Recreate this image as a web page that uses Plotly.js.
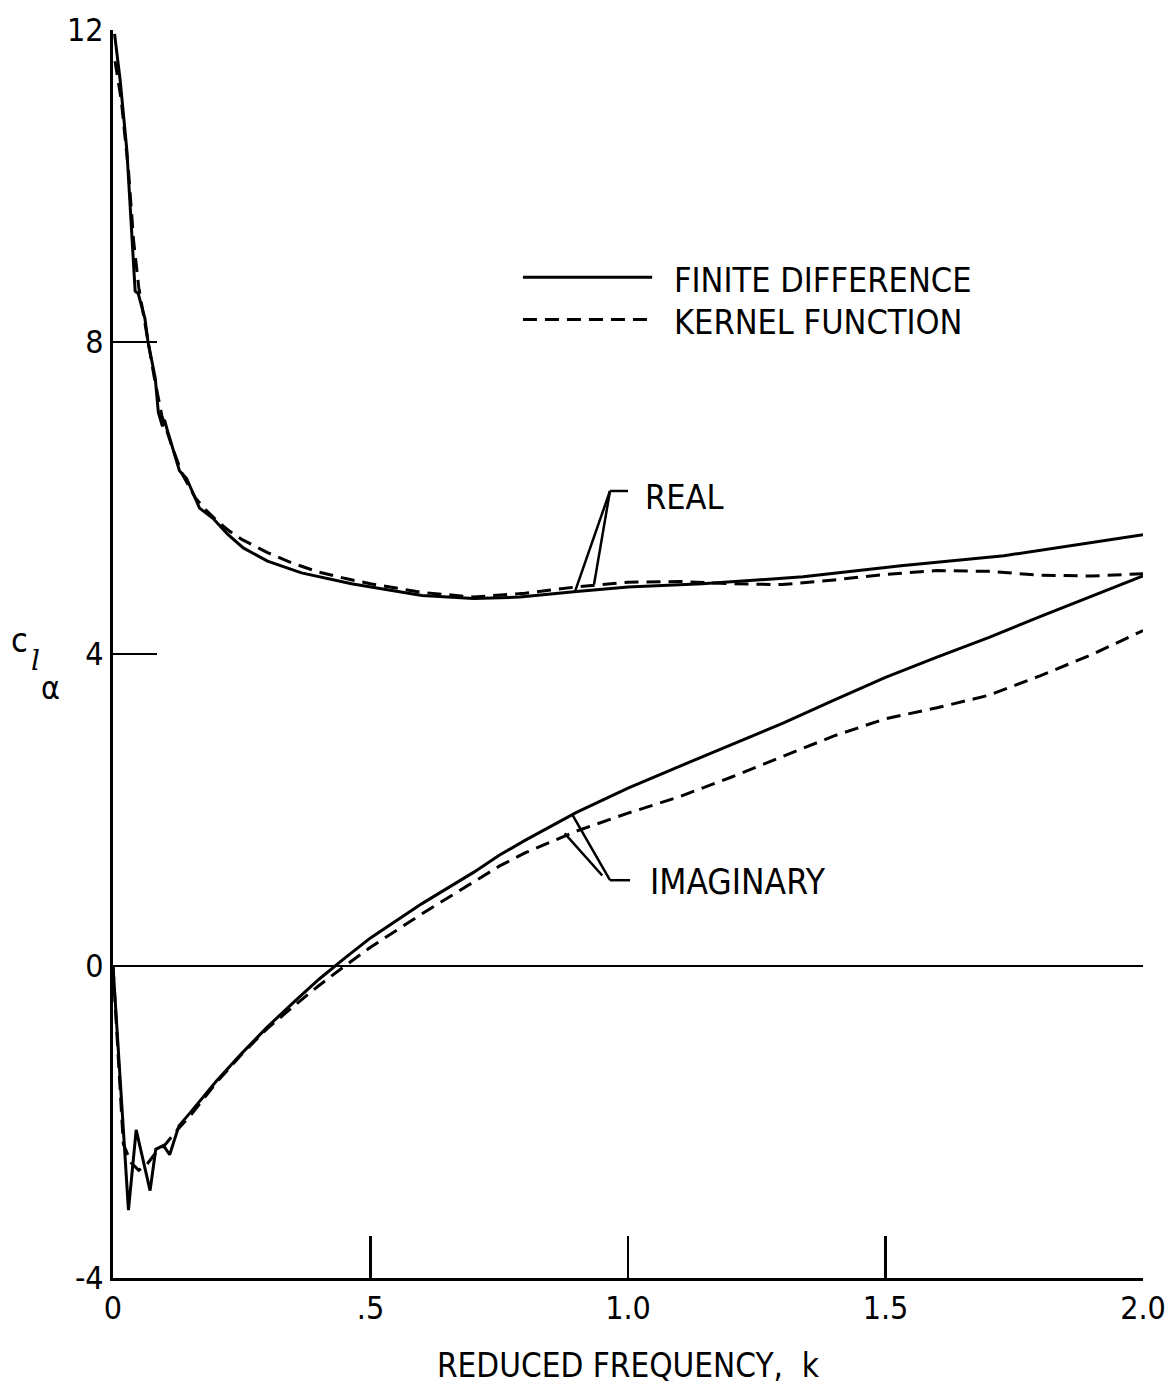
<!DOCTYPE html>
<html>
<head>
<meta charset="utf-8">
<script src="https://cdn.plot.ly/plotly-3.0.1.min.js"></script>
<style>
  html, body { margin: 0; padding: 0; background: #ffffff; }
  #chart { width: 1175px; height: 1392px; }
</style>
</head>
<body>
<div id="chart"></div>
<script>
// ---- Data (reduced frequency k vs c_l_alpha) ----
// Real part, finite difference (solid)
const kRealFD = [0.003, 0.014, 0.027, 0.034, 0.041, 0.043, 0.049, 0.062, 0.068, 0.082, 0.088, 0.096, 0.100, 0.105, 0.129, 0.143, 0.168, 0.194, 0.222, 0.253, 0.30, 0.366, 0.463, 0.55, 0.60, 0.70, 0.79, 0.90, 1.00, 1.144, 1.34, 1.53, 1.73, 2.00];
const cRealFD = [11.95, 11.35, 10.45, 9.60, 8.87, 8.65, 8.62, 8.30, 8.00, 7.54, 7.10, 6.92, 7.00, 6.88, 6.35, 6.25, 5.87, 5.74, 5.54, 5.36, 5.19, 5.04, 4.90, 4.80, 4.75, 4.71, 4.73, 4.80, 4.86, 4.90, 4.99, 5.13, 5.26, 5.53];

// Real part, kernel function (dashed)
const kRealKF = [0.004, 0.016, 0.030, 0.040, 0.050, 0.065, 0.080, 0.095, 0.115, 0.135, 0.16, 0.18, 0.20, 0.225, 0.25, 0.30, 0.35, 0.40, 0.45, 0.50, 0.60, 0.70, 0.80, 0.90, 1.00, 1.10, 1.20, 1.30, 1.40, 1.50, 1.60, 1.70, 1.80, 1.90, 2.00];
const cRealKF = [11.60, 11.10, 10.20, 9.30, 8.70, 8.10, 7.55, 7.05, 6.65, 6.30, 6.00, 5.85, 5.72, 5.58, 5.47, 5.30, 5.16, 5.05, 4.97, 4.90, 4.79, 4.73, 4.78, 4.86, 4.92, 4.93, 4.90, 4.89, 4.95, 5.02, 5.07, 5.06, 5.01, 5.00, 5.03];

// Imaginary part, finite difference (solid)
const kImagFD = [0.0, 0.030, 0.045, 0.072, 0.083, 0.098, 0.110, 0.128, 0.15, 0.20, 0.25, 0.30, 0.35, 0.40, 0.45, 0.50, 0.60, 0.70, 0.75, 0.80, 0.90, 1.00, 1.10, 1.20, 1.30, 1.40, 1.50, 1.60, 1.70, 1.80, 1.90, 2.00];
const cImagFD = [0.0, -3.13, -2.10, -2.88, -2.35, -2.30, -2.42, -2.05, -1.88, -1.48, -1.12, -0.78, -0.47, -0.17, 0.10, 0.36, 0.80, 1.20, 1.42, 1.61, 1.97, 2.28, 2.56, 2.84, 3.11, 3.41, 3.70, 3.96, 4.21, 4.48, 4.74, 5.00];

// Imaginary part, kernel function (dashed)
const kImagKF = [0.0, 0.020, 0.035, 0.050, 0.065, 0.080, 0.100, 0.125, 0.15, 0.20, 0.25, 0.30, 0.35, 0.40, 0.45, 0.50, 0.60, 0.70, 0.75, 0.80, 0.90, 1.00, 1.10, 1.20, 1.30, 1.40, 1.50, 1.60, 1.70, 1.80, 1.90, 2.00];
const cImagKF = [0.0, -2.28, -2.52, -2.62, -2.55, -2.42, -2.30, -2.10, -1.92, -1.50, -1.13, -0.80, -0.52, -0.25, 0.00, 0.24, 0.67, 1.07, 1.28, 1.45, 1.73, 1.96, 2.17, 2.42, 2.68, 2.95, 3.17, 3.31, 3.47, 3.72, 3.99, 4.30];

// Tick values and labels
const xTickVals = [0, 0.5, 1.0, 1.5, 2.0];
const xTickText = ['0', '.5', '1.0', '1.5', '2.0'];
const yTickVals = [-4, 0, 4, 8, 12];
const yTickText = ['-4', '0', '4', '8', '12'];

// Legend and label text
const legendNames = ['FINITE DIFFERENCE', 'KERNEL FUNCTION'];
const xTitle = 'REDUCED FREQUENCY,  k';

// ---- Styling ----
const FONT = 'Liberation Sans Narrow, DejaVu Sans Condensed, Arial Narrow, sans-serif';
const INK = '#000000';
const solid = { color: INK, width: 3, dash: 'solid' };
const dashed = { color: INK, width: 3, dash: '14px,8px' };

const traces = [
  { x: kRealFD, y: cRealFD, mode: 'lines', line: solid, name: 'Real, ' + legendNames[0], showlegend: false, hoverinfo: 'skip' },
  { x: kRealKF, y: cRealKF, mode: 'lines', line: dashed, name: 'Real, ' + legendNames[1], showlegend: false, hoverinfo: 'skip' },
  { x: kImagFD, y: cImagFD, mode: 'lines', line: solid, name: 'Imaginary, ' + legendNames[0], showlegend: false, hoverinfo: 'skip' },
  { x: kImagKF, y: cImagKF, mode: 'lines', line: dashed, name: 'Imaginary, ' + legendNames[1], showlegend: false, hoverinfo: 'skip' }
];

const lead = { color: INK, width: 2.5 };
const shapes = [
  // legend samples
  { type: 'line', xref: 'x', yref: 'y', x0: 0.796, x1: 1.047, y0: 8.83, y1: 8.83, line: { color: INK, width: 3 } },
  { type: 'line', xref: 'x', yref: 'y', x0: 0.796, x1: 1.047, y0: 8.29, y1: 8.29, line: { color: INK, width: 3, dash: '14px,8px' } },
  // REAL leader
  { type: 'line', xref: 'x', yref: 'y', x0: 0.965, x1: 1.000, y0: 6.09, y1: 6.09, line: lead },
  { type: 'line', xref: 'x', yref: 'y', x0: 0.965, x1: 0.897, y0: 6.09, y1: 4.80, line: lead },
  { type: 'line', xref: 'x', yref: 'y', x0: 0.965, x1: 0.934, y0: 6.09, y1: 4.89, line: lead },
  // IMAGINARY leader
  { type: 'line', xref: 'x', yref: 'y', x0: 0.965, x1: 1.004, y0: 1.10, y1: 1.10, line: lead },
  { type: 'line', xref: 'x', yref: 'y', x0: 0.965, x1: 0.891, y0: 1.10, y1: 1.95, line: lead },
  { type: 'line', xref: 'x', yref: 'y', x0: 0.950, x1: 0.877, y0: 1.16, y1: 1.70, line: lead }
];

const ann = (x, y, text, size, extra) => Object.assign({
  xref: 'x', yref: 'y', x: x, y: y, text: text, showarrow: false,
  xanchor: 'left', yanchor: 'middle', font: { family: FONT, size: size, color: INK }
}, extra || {});

const annotations = [
  ann(1.085, 8.80, legendNames[0], 34),
  ann(1.085, 8.26, legendNames[1], 34),
  ann(1.030, 6.01, 'REAL', 34),
  ann(1.039, 1.08, 'IMAGINARY', 35),
  // y-axis label c_l_alpha built from pieces
  { xref: 'paper', yref: 'y', x: -0.091, y: 4.18, text: 'c', showarrow: false, xanchor: 'center', yanchor: 'middle', font: { family: FONT, size: 34, color: INK } },
  { xref: 'paper', yref: 'y', x: -0.075, y: 3.92, text: '<i>l</i>', showarrow: false, xanchor: 'center', yanchor: 'middle', font: { family: 'DejaVu Serif, serif', size: 28, color: INK } },
  { xref: 'paper', yref: 'y', x: -0.061, y: 3.57, text: 'α', showarrow: false, xanchor: 'center', yanchor: 'middle', font: { family: FONT, size: 32, color: INK } }
];

const layout = {
  width: 1175, height: 1392,
  margin: { l: 113, r: 32, t: 30, b: 114, pad: 0 },
  paper_bgcolor: '#ffffff', plot_bgcolor: '#ffffff',
  showlegend: false,
  font: { family: FONT, size: 32, color: INK },
  xaxis: {
    range: [0, 2.0], tickmode: 'array', tickvals: xTickVals, ticktext: xTickText,
    ticks: 'inside', ticklen: 42, tickwidth: 2.5, tickcolor: INK,
    showline: true, linewidth: 3, linecolor: INK, mirror: false,
    showgrid: false, zeroline: false,
    tickfont: { family: FONT, size: 32, color: INK },
    title: { text: xTitle, font: { family: FONT, size: 33, color: INK }, standoff: 28 },
    fixedrange: true
  },
  yaxis: {
    range: [-4, 12], tickmode: 'array', tickvals: yTickVals, ticktext: yTickText,
    ticks: 'inside', ticklen: 44, tickwidth: 2.5, tickcolor: INK,
    showline: true, linewidth: 3, linecolor: INK, mirror: false,
    showgrid: false, zeroline: true, zerolinecolor: INK, zerolinewidth: 2.5,
    tickfont: { family: FONT, size: 32, color: INK },
    title: { text: '' },
    fixedrange: true
  },
  shapes: shapes,
  annotations: annotations
};

Plotly.newPlot('chart', traces, layout, { staticPlot: true, displayModeBar: false });
</script>
</body>
</html>
